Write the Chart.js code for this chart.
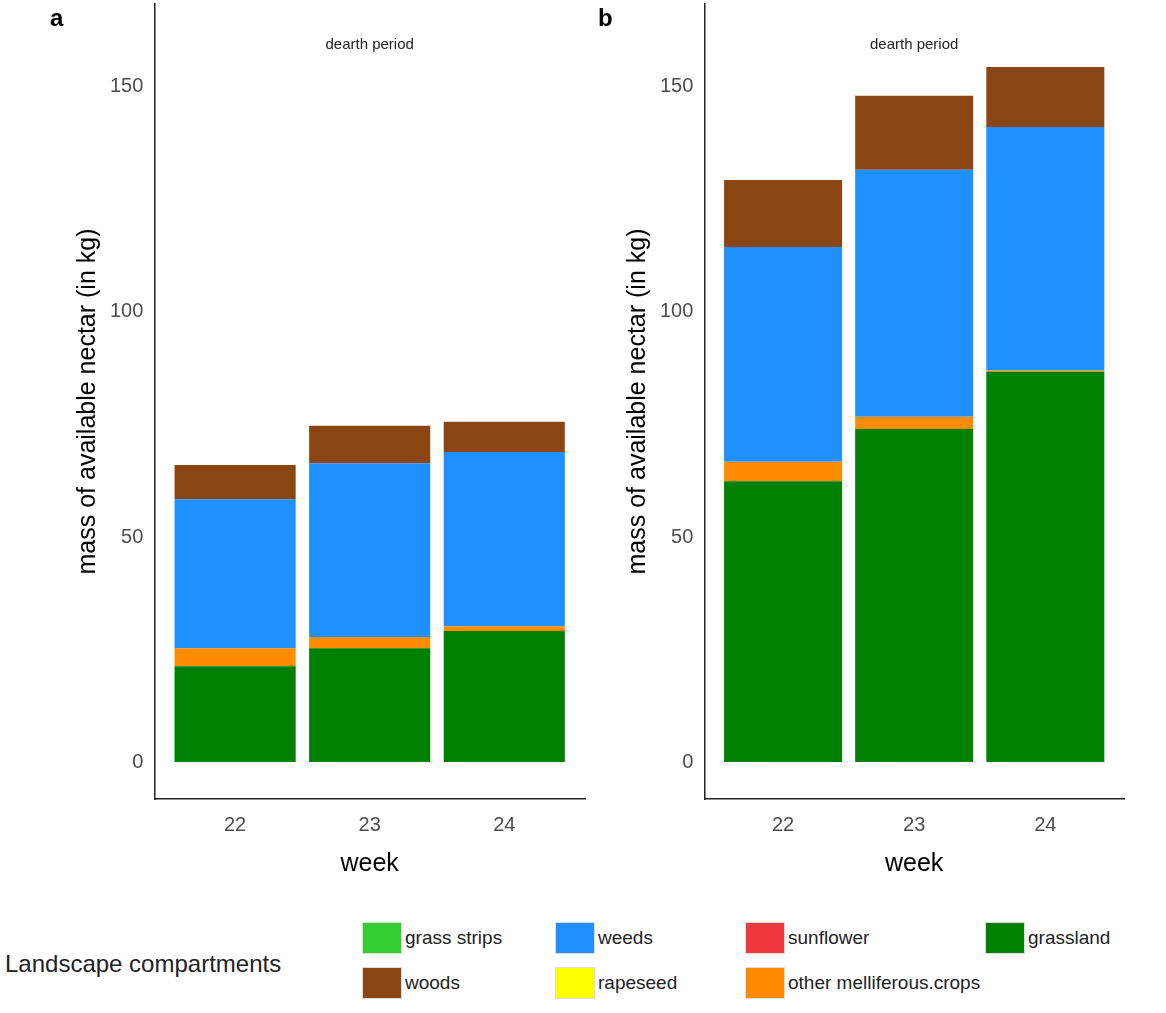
<!DOCTYPE html>
<html>
<head>
<meta charset="utf-8">
<script src="https://cdn.jsdelivr.net/npm/chart.js@4"></script>
<style>
  body { margin: 0; background: #fff; font-family: "Liberation Sans", Arial, sans-serif; }
  #wrap { position: relative; width: 1166px; height: 1013px; overflow: hidden; }
  .panel { position: absolute; top: -11px; }
  .tag { position: absolute; top: 4px; font-size: 24px; font-weight: bold; }
  .key { position: absolute; display: flex; align-items: center; font-size: 19px; color: #222; }
  .sw { width: 40px; height: 32px; margin-right: 3px; border: 1px solid #ddd; box-sizing: border-box; }
</style>
</head>
<body>
<div id="wrap">
  <div class="panel" style="left:0;width:590px;height:890px"><canvas id="a"></canvas></div>
  <div class="panel" style="left:550px;width:579px;height:890px"><canvas id="b"></canvas></div>
  <div class="tag" style="left:50px">a</div>
  <div class="tag" style="left:598px">b</div>
  <div id="legend"></div>
</div>
<script>
const weeks = [22, 23, 24];

const grasslandA = [21.3, 25.3, 29.1];
const otherCropsA = [4.0, 2.5, 1.1];
const weedsA = [33.1, 38.6, 38.7];
const woodsA = [7.6, 8.3, 6.7];

const grasslandB = [62.4, 74.0, 86.7];
const otherCropsB = [4.3, 2.7, 0.3];
const weedsB = [47.7, 54.9, 54.1];
const woodsB = [14.9, 16.4, 13.3];

const legendNames = ["grass strips", "woods", "weeds", "rapeseed", "sunflower", "other melliferous.crops", "grassland"];
const legendColors = ["#32cd32", "#8b4513", "#1e90ff", "#ffff00", "#f0393f", "#ff8c00", "#008000"];

const toXY = (vals) => vals.map((v, i) => ({ x: weeks[i], y: v }));

const dearthLabel = {
  id: "dearth",
  afterDraw(chart) {
    const { ctx, scales } = chart;
    ctx.save();
    ctx.font = "15px 'Liberation Sans', Arial";
    ctx.fillStyle = "#222";
    ctx.textAlign = "center";
    ctx.fillText("dearth period", scales.x.getPixelForValue(23), scales.y.getPixelForValue(158.5));
    ctx.restore();
  },
};

const makeChart = (id, grass, other, weeds, woods) => {
  new Chart(id, {
    type: "bar",
    data: {
      datasets: [
        { label: "grassland", data: toXY(grass), backgroundColor: "#008000" },
        { label: "other melliferous.crops", data: toXY(other), backgroundColor: "#ff8c00" },
        { label: "weeds", data: toXY(weeds), backgroundColor: "#1e90ff" },
        { label: "woods", data: toXY(woods), backgroundColor: "#8b4513" },
      ],
    },
    options: {
      animation: false,
      responsive: true,
      maintainAspectRatio: false,
      layout: { padding: { top: 5, right: 5, left: 69 } },
      plugins: { legend: { display: false }, tooltip: { enabled: false } },
      datasets: { bar: { barPercentage: 0.9, categoryPercentage: 1 } },
      scales: {
        x: {
          type: "linear",
          stacked: true,
          offset: false,
          min: 21.4,
          max: 24.6,
          grid: { display: false, drawTicks: true },
          border: { color: "#222", width: 1.5 },
          afterBuildTicks: (ax) => { ax.ticks = weeks.map((w) => ({ value: w })); },
          ticks: { color: "#4d4d4d", font: { size: 20 }, padding: 6 },
          title: { display: true, text: "week", color: "#000", font: { size: 25 }, padding: { top: 6, bottom: 0 } },
        },
        y: {
          stacked: true,
          min: -8.2,
          max: 168.4,
          grid: { display: false },
          border: { color: "#222", width: 1.5 },
          afterBuildTicks: (ax) => { ax.ticks = [0, 50, 100, 150].map((v) => ({ value: v })); },
          ticks: { color: "#4d4d4d", font: { size: 20 } },
          title: { display: true, text: "mass of available nectar (in kg)", color: "#000", font: { size: 25 } },
        },
      },
    },
    plugins: [dearthLabel],
  });
};

makeChart("a", grasslandA, otherCropsA, weedsA, woodsA);
makeChart("b", grasslandB, otherCropsB, weedsB, woodsB);

// legend, two rows in column order like ggplot
const legend = document.getElementById("legend");
const title = document.createElement("div");
title.className = "key";
title.style.cssText = "left:5px;top:950px;font-size:24px";
title.textContent = "Landscape compartments";
legend.appendChild(title);
const colX = [362, 555, 745, 985];
legendNames.forEach((name, i) => {
  const col = Math.floor(i / 2), row = i % 2;
  const d = document.createElement("div");
  d.className = "key";
  d.style.left = colX[col] + "px";
  d.style.top = (922 + row * 45) + "px";
  d.innerHTML = `<span class="sw" style="background:${legendColors[i]}"></span>${name}`;
  legend.appendChild(d);
});
</script>
</body>
</html>
